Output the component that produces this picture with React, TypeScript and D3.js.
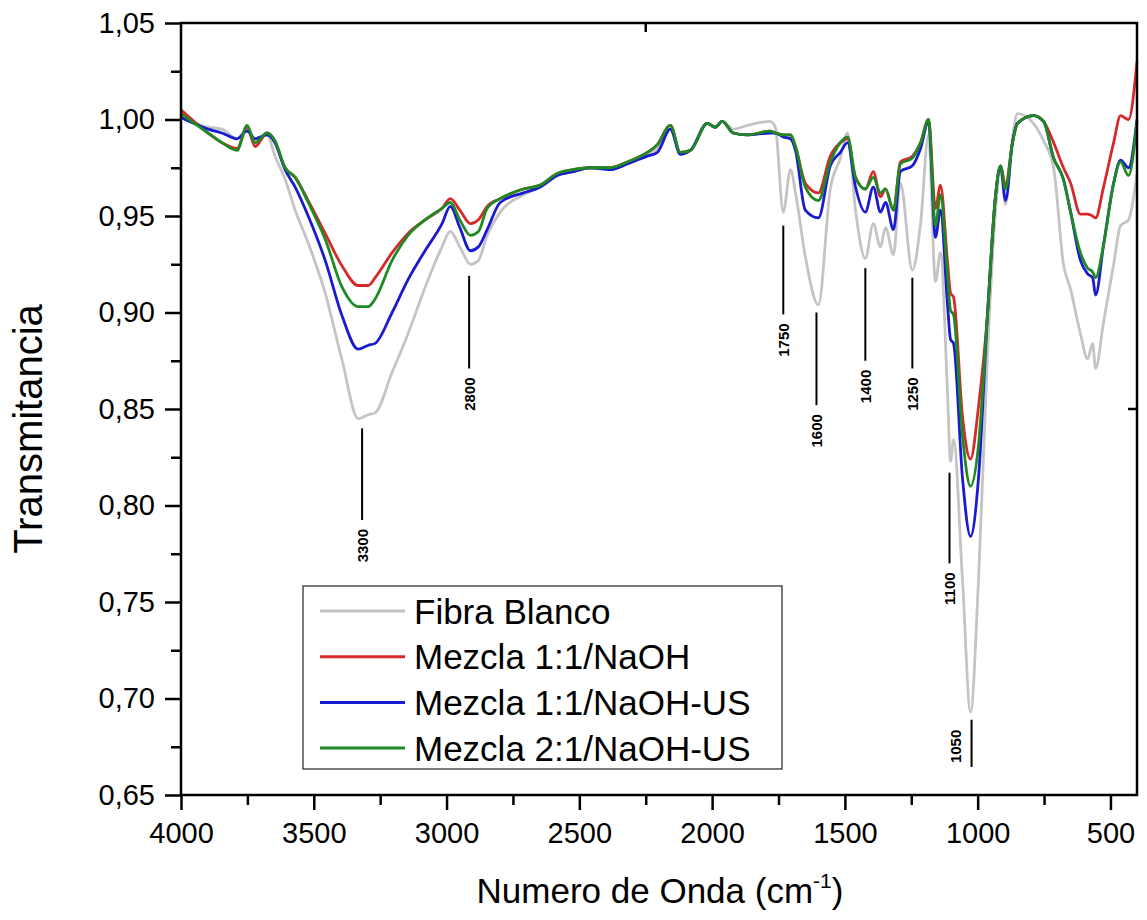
import React, { useEffect, useRef } from 'react';
import * as d3 from 'd3';

// wavenumber samples (cm-1)
const wavenumbers = [4000, 3898, 3846, 3789, 3751, 3721, 3676, 3646, 3608, 3570, 3521, 3457, 3393, 3333, 3295, 3269, 3205, 3145, 3081, 3017, 2986, 2950, 2910, 2880, 2847, 2798, 2711, 2647, 2583, 2523, 2459, 2384, 2319, 2244, 2206, 2157, 2120, 2082, 2018, 1988, 1962, 1920, 1867, 1781, 1762, 1732, 1705, 1686, 1649, 1600, 1555, 1517, 1490, 1460, 1423, 1393, 1366, 1347, 1317, 1291, 1246, 1215, 1185, 1159, 1140, 1114, 1102, 1091, 1057, 1027, 997, 963, 933, 914, 895, 869, 850, 790, 752, 714, 677, 650, 613, 586, 567, 556, 526, 488, 462, 432, 400];

const fibraBlanco = [1.001, 0.996, 0.995, 0.990, 0.995, 0.990, 0.992, 0.981, 0.969, 0.953, 0.936, 0.910, 0.875, 0.845, 0.847, 0.848, 0.869, 0.889, 0.913, 0.934, 0.942, 0.934, 0.925, 0.927, 0.940, 0.952, 0.961, 0.965, 0.971, 0.973, 0.975, 0.975, 0.978, 0.982, 0.985, 0.995, 0.983, 0.984, 0.998, 0.996, 0.999, 0.995, 0.997, 0.999, 0.996, 0.952, 0.974, 0.962, 0.929, 0.904, 0.964, 0.980, 0.993, 0.953, 0.928, 0.946, 0.934, 0.944, 0.930, 0.967, 0.922, 0.946, 0.992, 0.916, 0.931, 0.860, 0.823, 0.834, 0.761, 0.693, 0.761, 0.878, 0.952, 0.974, 0.956, 0.990, 1.003, 0.998, 0.989, 0.975, 0.925, 0.912, 0.889, 0.876, 0.884, 0.871, 0.895, 0.925, 0.945, 0.948, 0.972];

const mezcla11NaOH = [1.005, 0.993, 0.988, 0.985, 0.996, 0.986, 0.993, 0.988, 0.975, 0.970, 0.958, 0.941, 0.924, 0.914, 0.914, 0.918, 0.931, 0.941, 0.948, 0.954, 0.959, 0.953, 0.946, 0.948, 0.955, 0.959, 0.964, 0.966, 0.972, 0.974, 0.975, 0.975, 0.978, 0.983, 0.987, 0.997, 0.983, 0.984, 0.998, 0.996, 0.999, 0.993, 0.992, 0.994, 0.993, 0.992, 0.992, 0.986, 0.967, 0.962, 0.981, 0.988, 0.990, 0.970, 0.964, 0.973, 0.960, 0.964, 0.953, 0.978, 0.981, 0.988, 1.000, 0.954, 0.966, 0.927, 0.910, 0.908, 0.846, 0.824, 0.851, 0.899, 0.960, 0.976, 0.966, 0.988, 0.998, 1.002, 0.999, 0.988, 0.975, 0.967, 0.951, 0.951, 0.950, 0.949, 0.965, 0.988, 1.002, 1.000, 1.030];

const mezcla11NaOHUS = [1.001, 0.995, 0.993, 0.990, 0.994, 0.990, 0.992, 0.988, 0.974, 0.965, 0.950, 0.927, 0.898, 0.881, 0.883, 0.884, 0.900, 0.917, 0.932, 0.946, 0.955, 0.944, 0.932, 0.934, 0.943, 0.957, 0.962, 0.965, 0.971, 0.973, 0.975, 0.974, 0.977, 0.981, 0.983, 0.995, 0.982, 0.984, 0.998, 0.996, 0.999, 0.993, 0.992, 0.993, 0.993, 0.991, 0.990, 0.984, 0.953, 0.949, 0.976, 0.983, 0.988, 0.965, 0.952, 0.965, 0.952, 0.957, 0.943, 0.973, 0.976, 0.985, 0.999, 0.939, 0.953, 0.905, 0.886, 0.884, 0.814, 0.784, 0.814, 0.899, 0.960, 0.976, 0.958, 0.988, 0.998, 1.002, 0.999, 0.980, 0.969, 0.952, 0.927, 0.920, 0.918, 0.909, 0.935, 0.967, 0.979, 0.975, 1.000];

const mezcla21NaOHUS = [1.003, 0.993, 0.988, 0.984, 0.997, 0.988, 0.993, 0.989, 0.975, 0.970, 0.957, 0.938, 0.913, 0.903, 0.903, 0.907, 0.927, 0.940, 0.948, 0.954, 0.957, 0.948, 0.940, 0.942, 0.954, 0.959, 0.964, 0.966, 0.972, 0.974, 0.975, 0.975, 0.978, 0.983, 0.987, 0.997, 0.983, 0.984, 0.998, 0.996, 0.999, 0.993, 0.992, 0.994, 0.993, 0.992, 0.992, 0.986, 0.965, 0.958, 0.978, 0.988, 0.991, 0.970, 0.964, 0.970, 0.962, 0.964, 0.953, 0.977, 0.980, 0.988, 1.000, 0.945, 0.961, 0.920, 0.901, 0.899, 0.836, 0.810, 0.831, 0.899, 0.960, 0.976, 0.964, 0.988, 0.998, 1.002, 0.999, 0.980, 0.969, 0.952, 0.931, 0.923, 0.921, 0.918, 0.935, 0.967, 0.978, 0.971, 0.999];

const seriesNames = ['Fibra Blanco', 'Mezcla 1:1/NaOH', 'Mezcla 1:1/NaOH-US', 'Mezcla 2:1/NaOH-US'];
const seriesValues = [fibraBlanco, mezcla11NaOH, mezcla11NaOHUS, mezcla21NaOHUS];
const seriesColors = ['#c4c4c4', '#d62a2a', '#1a1ad0', '#1f8a24'];

const xTicks = [4000, 3500, 3000, 2500, 2000, 1500, 1000, 500];
const xMinorTicks = [3750, 3250, 2750, 2250, 1750, 1250, 750];
const yTicks = [0.65, 0.70, 0.75, 0.80, 0.85, 0.90, 0.95, 1.00, 1.05];
const yMinorTicks = [0.675, 0.725, 0.775, 0.825, 0.875, 0.925, 0.975, 1.025];

// band markers: position, line start/end (transmittance), label
const peakPos = [3318, 2915, 1732, 1607, 1423, 1246, 1106, 1023];
const peakTop = [0.840, 0.919, 0.945, 0.900, 0.923, 0.918, 0.817, 0.689];
const peakBottom = [0.7925, 0.871, 0.899, 0.852, 0.875, 0.871, 0.770, 0.6645];
const peakLabels = ['3300', '2800', '1750', '1600', '1400', '1250', '1100', '1050'];

const FONT = '"Liberation Sans", Arial, sans-serif';

const App = () => {
  const svgRef = useRef(null);

  useEffect(() => {
    const svg = d3.select(svgRef.current);
    svg.selectAll('*').remove();

    const left = 181, right = 1137, top = 23, bottom = 795;

    const x = d3.scaleLinear().domain([4000, 400]).range([left, right]);
    const y = d3.scaleLinear().domain([0.65, 1.05]).range([bottom, top]);

    // spectra
    const line = d3.line()
      .x(d => x(d[0]))
      .y(d => y(d[1]))
      .curve(d3.curveMonotoneX);

    seriesValues.forEach((vals, i) => {
      const pts = wavenumbers.map((w, j) => [w, vals[j]]);
      svg.append('path')
        .attr('d', line(pts))
        .attr('fill', 'none')
        .attr('stroke', seriesColors[i])
        .attr('stroke-width', 2.8)
        .attr('stroke-linejoin', 'round');
    });

    // band markers
    peakPos.forEach((p, i) => {
      svg.append('line')
        .attr('x1', x(p)).attr('x2', x(p))
        .attr('y1', y(peakTop[i])).attr('y2', y(peakBottom[i]))
        .attr('stroke', '#000')
        .attr('stroke-width', 2);
      const side = i === peakPos.length - 1;
      const lx = side ? x(p) - 16 : x(p);
      const ly = side ? y(peakTop[i]) + 10 : y(peakBottom[i]) + 9;
      svg.append('text')
        .attr('transform', `translate(${lx},${ly}) rotate(-90)`)
        .attr('text-anchor', 'end')
        .attr('dy', '0.36em')
        .style('font-family', FONT)
        .style('font-size', '15px')
        .style('font-weight', 'bold')
        .text(peakLabels[i]);
    });

    const fmt = d => d3.format('.2f')(d).replace('.', ',');

    // left axis
    const gy = svg.append('g').attr('transform', `translate(${left},0)`);
    gy.call(d3.axisLeft(y).tickValues(yTicks).tickSize(16).tickPadding(10).tickFormat(fmt));
    gy.select('.domain').remove();
    gy.selectAll('line').attr('stroke-width', 2.5);
    gy.selectAll('text').style('font-family', FONT).style('font-size', '29px').attr('fill', '#000');

    const gyMinor = svg.append('g').attr('transform', `translate(${left},0)`);
    gyMinor.call(d3.axisLeft(y).tickValues(yMinorTicks).tickSize(10).tickFormat(''));
    gyMinor.select('.domain').remove();
    gyMinor.selectAll('line').attr('stroke-width', 2.5);

    // bottom axis
    const gx = svg.append('g').attr('transform', `translate(0,${bottom})`);
    gx.call(d3.axisBottom(x).tickValues(xTicks).tickSize(15).tickPadding(12).tickFormat(d3.format('d')));
    gx.select('.domain').remove();
    gx.selectAll('line').attr('stroke-width', 2.5);
    gx.selectAll('text').style('font-family', FONT).style('font-size', '29px').attr('fill', '#000');

    const gxMinor = svg.append('g').attr('transform', `translate(0,${bottom})`);
    gxMinor.call(d3.axisBottom(x).tickValues(xMinorTicks).tickSize(10).tickFormat(''));
    gxMinor.select('.domain').remove();
    gxMinor.selectAll('line').attr('stroke-width', 2.5);

    // stray ticks on the top and right frame
    svg.append('line')
      .attr('x1', x(2250)).attr('x2', x(2250))
      .attr('y1', top).attr('y2', top + 9)
      .attr('stroke', '#000').attr('stroke-width', 2.5);
    svg.append('line')
      .attr('x1', right - 9).attr('x2', right)
      .attr('y1', y(0.85)).attr('y2', y(0.85))
      .attr('stroke', '#000').attr('stroke-width', 2.5);

    // frame
    svg.append('rect')
      .attr('x', left).attr('y', top)
      .attr('width', right - left).attr('height', bottom - top)
      .attr('fill', 'none')
      .attr('stroke', '#000')
      .attr('stroke-width', 2.5);

    // axis titles
    svg.append('text')
      .attr('transform', `translate(42,429) rotate(-90)`)
      .attr('text-anchor', 'middle')
      .style('font-family', FONT)
      .style('font-size', '40px')
      .text('Transmitancia');

    const xt = svg.append('text')
      .attr('x', 660).attr('y', 903)
      .attr('text-anchor', 'middle')
      .style('font-family', FONT)
      .style('font-size', '35px');
    xt.append('tspan').text('Numero de Onda (cm');
    xt.append('tspan').attr('dy', -15).style('font-size', '21px').text('-1');
    xt.append('tspan').attr('dy', 15).text(')');

    // legend
    const legend = svg.append('g');
    legend.append('rect')
      .attr('x', 303).attr('y', 586)
      .attr('width', 479).attr('height', 183)
      .attr('fill', '#fff')
      .attr('stroke', '#333')
      .attr('stroke-width', 1.3);

    seriesNames.forEach((name, i) => {
      const ry = 611 + i * 45.7;
      legend.append('line')
        .attr('x1', 320).attr('x2', 405)
        .attr('y1', ry).attr('y2', ry)
        .attr('stroke', seriesColors[i])
        .attr('stroke-width', 3);
      legend.append('text')
        .attr('x', 414).attr('y', ry)
        .attr('dy', '0.36em')
        .style('font-family', FONT)
        .style('font-size', '35px')
        .text(name);
    });
  }, []);

  return (
    <svg
      ref={svgRef}
      width={1147}
      height={920}
      style={{ position: 'absolute', left: 0, top: 0, background: '#fff' }}
    />
  );
};

export default App;
